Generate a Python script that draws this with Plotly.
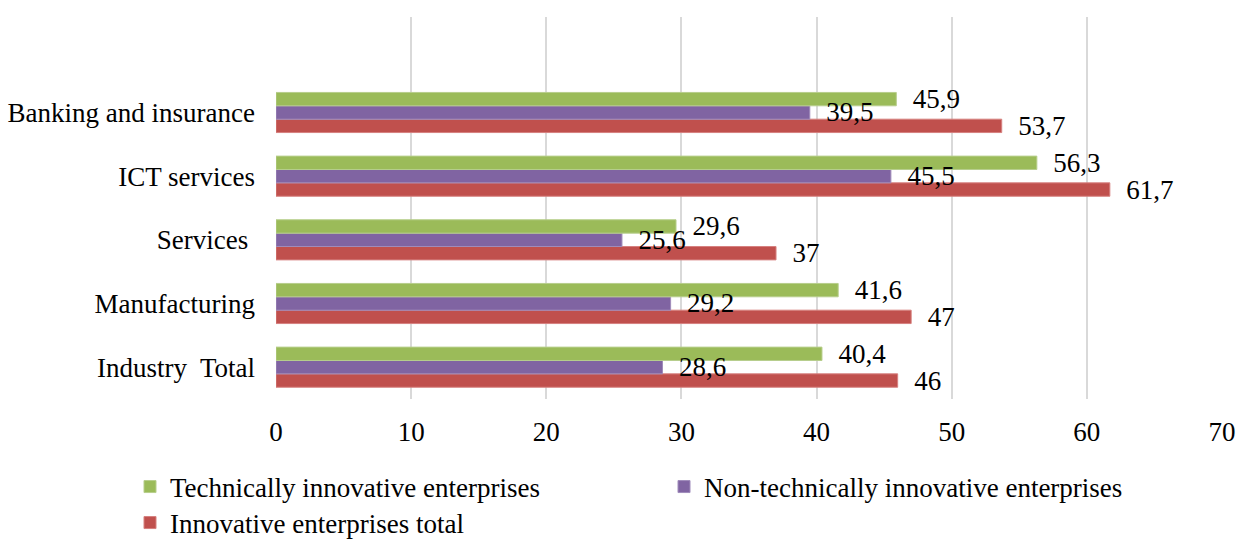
import plotly.graph_objects as go

categories = ["Industry\u00a0 Total", "Manufacturing", "Services\u00a0", "ICT services", "Banking and insurance"]
technical = [40.4, 41.6, 29.6, 56.3, 45.9]
non_technical = [28.6, 29.2, 25.6, 45.5, 39.5]
total = [46, 47, 37, 61.7, 53.7]
x_ticks = [0, 10, 20, 30, 40, 50, 60, 70]

FONT = "Liberation Serif"
FS = 27
BAR_W = 0.21


def lab(vals):
    return ["\u00a0\u00a0" + f"{v:g}".replace(".", ",") for v in vals]


# (name, values, fill, outline, legend rank, legend, slot within group: 0 = bottom)
series = [
    ("Innovative enterprises total", total, "#C0504D", "#D6817F", 3, "legend2", 0),
    ("Non-technically innovative enterprises", non_technical, "#8064A2", "#A08CBB", 2, "legend", 1),
    ("Technically innovative enterprises", technical, "#9BBB59", "#B7CE8C", 1, "legend", 2),
]

fig = go.Figure()
# coloured bars
for name, vals, color, lc, rank, lg, slot in series:
    fig.add_trace(go.Bar(
        y=categories, x=vals, orientation="h", name=name,
        width=BAR_W, offset=BAR_W * (slot - 1.5),
        marker=dict(color=color, line=dict(color=lc, width=1)),
        legendrank=rank, legend=lg, hoverinfo="x+name",
    ))
# value labels drawn above all bars (transparent carrier bars)
for name, vals, color, lc, rank, lg, slot in series:
    fig.add_trace(go.Bar(
        y=categories, x=vals, orientation="h", name=name, showlegend=False,
        width=BAR_W, offset=BAR_W * (slot - 1.5),
        marker=dict(color="rgba(0,0,0,0)", line=dict(width=0)),
        text=lab(vals), textposition="outside", constraintext="none",
        cliponaxis=False, textfont=dict(family=FONT, size=FS, color="#000"),
        hoverinfo="skip",
    ))

PLOT_L, PLOT_W, PLOT_B, PLOT_H = 276, 946, 399, 382

leg_common = dict(
    orientation="h", xref="paper", yref="paper",
    xanchor="left", yanchor="middle",
    entrywidth=489, entrywidthmode="pixels", itemwidth=30,
    font=dict(family=FONT, size=FS, color="#000"),
    bgcolor="rgba(0,0,0,0)", traceorder="normal",
)

fig.update_layout(
    width=1239, height=540,
    margin=dict(l=276, r=17, t=17, b=141, autoexpand=False),
    paper_bgcolor="white", plot_bgcolor="white",
    barmode="overlay",
    font=dict(family=FONT, size=FS, color="#000"),
    showlegend=True,
    legend=dict(leg_common, x=(130 - PLOT_L) / PLOT_W, y=(PLOT_B - 487) / PLOT_H),
    legend2=dict(leg_common, x=(130 - PLOT_L) / PLOT_W, y=(PLOT_B - 523) / PLOT_H),
    xaxis=dict(
        range=[0, 70], tickvals=x_ticks, showgrid=True, gridcolor="#D9D9D9",
        gridwidth=1.5, zeroline=False, showline=False, ticks="",
        ticklabelstandoff=14, tickfont=dict(family=FONT, size=FS, color="#000"),
    ),
    yaxis=dict(
        type="category", categoryorder="array", categoryarray=categories,
        range=[-0.5, 5.5], showgrid=False, zeroline=False, showline=False,
        ticks="", ticklabelstandoff=20,
        tickfont=dict(family=FONT, size=FS, color="#000"),
    ),
)

fig.write_html("out.html")
